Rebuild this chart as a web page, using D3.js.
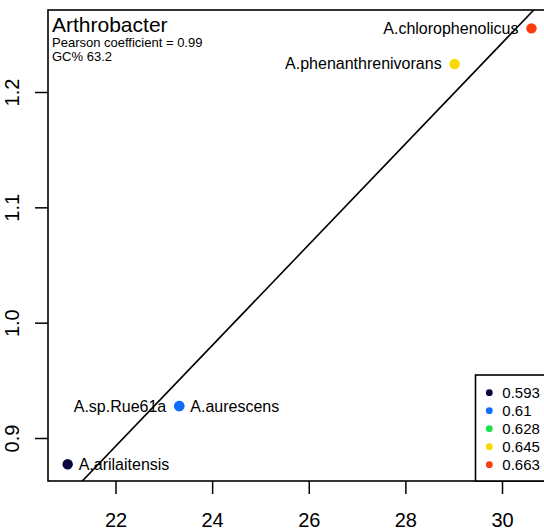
<!DOCTYPE html>
<html>
<head>
<meta charset="utf-8">
<script src="https://cdn.jsdelivr.net/npm/d3@7"></script>
<style>
  body { margin: 0; background: #fff; overflow: hidden; }
  text { font-family: "Liberation Sans", Arial, sans-serif; fill: #000; }
</style>
</head>
<body>
<script>
'use strict';

// species shown on the plot
const species = ["A.arilaitensis", "A.aurescens", "A.sp.Rue61a", "A.phenanthrenivorans", "A.chlorophenolicus"];
const xValues = [21.01, 23.32, 23.32, 29.02, 30.61];
const yValues = [0.8772, 0.9277, 0.9277, 1.2243, 1.2552];
const gcGroup = [0, 1, 1, 3, 4]; // index into legend colours
const labelSide = ["right", "right", "left", "left", "left"];

// legend
const legendLabels = ["0.593", "0.61", "0.628", "0.645", "0.663"];
const legendColors = ["#08083f", "#0f6ef7", "#1be34c", "#f9da00", "#fb3c0c"];

// ticks
const xTicks = [22, 24, 26, 28, 30];
const yTicks = [0.9, 1.0, 1.1, 1.2];

// fitted line y = a + b x
const fitIntercept = -0.06876;
const fitSlope = 0.043705;

const title = "Arthrobacter";
const subLines = ["Pearson coefficient = 0.99", "GC% 63.2"];

(function() {

  let svg = "";

  window.onload = function() {
    svg = d3.select('body')
      .append('svg')
      .attr('width', 544)
      .attr('height', 532);

    let box = {left: 48, top: 10, right: 560, bottom: 481};

    // scales
    let xScale = d3.scaleLinear()
      .domain([22, 30])
      .range([115.5, 502]);
    let yScale = d3.scaleLinear()
      .domain([0.9, 1.2])
      .range([438, 92]);

    // clip for the fitted line
    svg.append('clipPath')
      .attr('id', 'plotClip')
      .append('rect')
        .attr('x', box.left)
        .attr('y', box.top)
        .attr('width', box.right - box.left)
        .attr('height', box.bottom - box.top);

    // x axis
    let xAxis = d3.axisBottom(xScale).tickValues(xTicks).tickSize(13).tickFormat(d3.format('d'));
    let gx = svg.append('g')
      .attr('transform', 'translate(0,' + box.bottom + ')')
      .call(xAxis);
    gx.select('.domain').remove();
    gx.selectAll('line').attr('stroke', '#000').attr('stroke-width', 1.5);
    gx.selectAll('text')
      .attr('y', 46)
      .attr('dy', 0)
      .style('font-size', '20px')
      .style('font-family', '"Liberation Sans", Arial, sans-serif');

    // y axis with rotated labels
    let yAxis = d3.axisLeft(yScale).tickValues(yTicks).tickSize(13).tickFormat(d3.format('.1f'));
    let gy = svg.append('g')
      .attr('transform', 'translate(' + box.left + ',0)')
      .call(yAxis);
    gy.select('.domain').remove();
    gy.selectAll('line').attr('stroke', '#000').attr('stroke-width', 1.5);
    gy.selectAll('text')
      .attr('transform', 'rotate(-90)')
      .attr('x', 0)
      .attr('y', -29)
      .attr('dy', 0)
      .attr('text-anchor', 'middle')
      .style('font-size', '20px')
      .style('font-family', '"Liberation Sans", Arial, sans-serif');

    // fitted line
    let x0 = xScale.invert(box.left);
    let x1 = xScale.invert(box.right);
    svg.append('line')
      .attr('clip-path', 'url(#plotClip)')
      .attr('x1', xScale(x0))
      .attr('y1', yScale(fitIntercept + fitSlope * x0))
      .attr('x2', xScale(x1))
      .attr('y2', yScale(fitIntercept + fitSlope * x1))
      .attr('stroke', '#000')
      .attr('stroke-width', 1.6);

    // points
    svg.selectAll('.dot')
      .data(species)
      .enter()
      .append('circle')
        .attr('class', 'dot')
        .attr('cx', (d, i) => xScale(xValues[i]))
        .attr('cy', (d, i) => yScale(yValues[i]))
        .attr('r', 5.2)
        .attr('fill', (d, i) => legendColors[gcGroup[i]]);

    // point labels
    svg.selectAll('.lab')
      .data(species)
      .enter()
      .append('text')
        .attr('class', 'lab')
        .attr('x', (d, i) => xScale(xValues[i]) + (labelSide[i] == "right" ? 11 : -13))
        .attr('y', (d, i) => yScale(yValues[i]) + 5.5)
        .attr('text-anchor', (d, i) => labelSide[i] == "right" ? 'start' : 'end')
        .style('font-size', '16px')
        .text(d => d);

    // frame
    svg.append('rect')
      .attr('x', box.left)
      .attr('y', box.top)
      .attr('width', box.right - box.left)
      .attr('height', box.bottom - box.top)
      .attr('fill', 'none')
      .attr('stroke', '#000')
      .attr('stroke-width', 1.6);

    // title and notes
    svg.append('text')
      .attr('x', 52)
      .attr('y', 32)
      .style('font-size', '21px')
      .text(title);

    svg.selectAll('.note')
      .data(subLines)
      .enter()
      .append('text')
        .attr('class', 'note')
        .attr('x', 52)
        .attr('y', (d, i) => 46.5 + i * 14.5)
        .style('font-size', '13px')
        .text(d => d);

    makeLegend(box);
  }

  // legend box in the lower right corner
  function makeLegend(box) {
    let lg = svg.append('g');

    lg.append('rect')
      .attr('x', 475.5)
      .attr('y', 375)
      .attr('width', 100)
      .attr('height', box.bottom - 375)
      .attr('fill', '#fff')
      .attr('stroke', '#000')
      .attr('stroke-width', 1.6);

    let rows = lg.selectAll('.row')
      .data(legendLabels)
      .enter()
      .append('g')
        .attr('transform', (d, i) => 'translate(489.3,' + (392.7 + i * 18) + ')');

    rows.append('circle')
      .attr('r', 3.4)
      .attr('fill', (d, i) => legendColors[i]);

    rows.append('text')
      .attr('x', 13)
      .attr('y', 5.5)
      .style('font-size', '15px')
      .text(d => d);
  }
})();
</script>
</body>
</html>
